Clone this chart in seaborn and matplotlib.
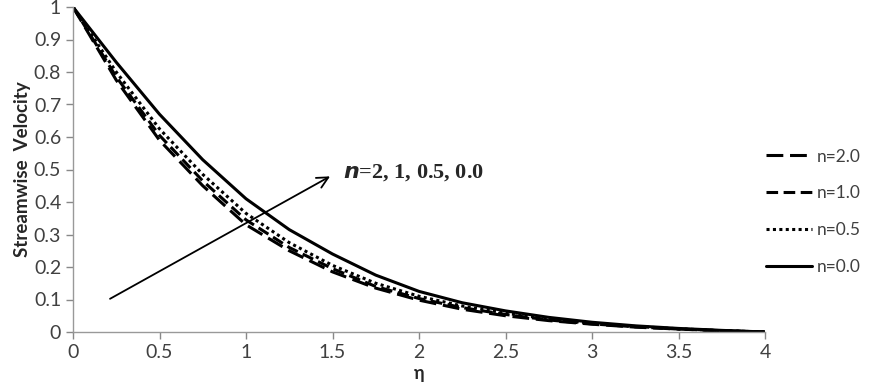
import numpy as np
import pandas as pd
import matplotlib
matplotlib.use("Agg")
import matplotlib.pyplot as plt
import seaborn as sns

eta = [0, 0.25, 0.5, 0.75, 1.0, 1.25, 1.5, 1.75, 2.0, 2.25, 2.5, 2.75, 3.0, 3.25, 3.5, 3.75, 4.0]
u_n20 = [1.0, 0.775, 0.59, 0.45, 0.33, 0.25, 0.185, 0.135, 0.098, 0.07, 0.05, 0.035, 0.024, 0.015, 0.009, 0.004, 0.0]
u_n10 = [1.0, 0.785, 0.605, 0.465, 0.345, 0.26, 0.195, 0.14, 0.103, 0.075, 0.054, 0.037, 0.025, 0.016, 0.009, 0.004, 0.0]
u_n05 = [1.0, 0.80, 0.625, 0.485, 0.365, 0.275, 0.205, 0.15, 0.11, 0.08, 0.058, 0.04, 0.027, 0.017, 0.01, 0.004, 0.0]
u_n00 = [1.0, 0.83, 0.67, 0.53, 0.41, 0.315, 0.24, 0.175, 0.125, 0.09, 0.065, 0.045, 0.03, 0.019, 0.011, 0.005, 0.0]
labels = ["n=2.0", "n=1.0", "n=0.5", "n=0.0"]

df = pd.concat([
    pd.DataFrame({"eta": eta, "u": u, "n": lab})
    for u, lab in zip([u_n20, u_n10, u_n05, u_n00], labels)
])

sns.set_style("ticks")
plt.rcParams["font.family"] = ["Lato", "DejaVu Sans"]

fig = plt.figure(figsize=(8.74, 3.89), dpi=100)
ax = fig.add_axes([73 / 874, 1 - 332 / 389, 692 / 874, 325 / 389])

dashes = {"n=2.0": (5.5, 2.2), "n=1.0": (3.8, 1.8), "n=0.5": (1, 1.1), "n=0.0": ""}
sns.lineplot(data=df, x="eta", y="u", style="n", dashes=dashes, color="black",
             linewidth=2.2, ax=ax, legend=True)

ax.set_xlim(0, 4)
ax.set_ylim(0, 1)
ax.set_xticks(np.arange(0, 4.01, 0.5))
ax.set_xticklabels(["0", "0.5", "1", "1.5", "2", "2.5", "3", "3.5", "4"])
ax.set_yticks(np.arange(0, 1.01, 0.1))
ax.set_yticklabels(["0", "0.1", "0.2", "0.3", "0.4", "0.5", "0.6", "0.7", "0.8", "0.9", "1"])
ax.tick_params(axis="both", labelsize=14, colors="#888888", labelcolor="#404040",
               length=5, width=1)
for s in ["top", "right"]:
    ax.spines[s].set_visible(False)
for s in ["left", "bottom"]:
    ax.spines[s].set_color("#999999")
    ax.spines[s].set_linewidth(1)

ax.set_xlabel("η", fontsize=13, fontweight="bold", labelpad=3)
ax.set_ylabel("Streamwise  Velocity", fontsize=13.5, fontweight="bold", labelpad=2)

ax.annotate("", xy=(1.5, 0.483), xytext=(0.2, 0.098),
            arrowprops=dict(arrowstyle="->", color="black", lw=1.3, mutation_scale=20))
ax.text(1.56, 0.49, r"$\mathbfit{n}$=2, 1, 0.5, 0.0", fontsize=16, fontweight="bold",
        family="Liberation Serif", va="center", ha="left")

handles, labs = ax.get_legend_handles_labels()
leg = ax.legend(handles, labs, loc="center left", bbox_to_anchor=(0.992, 0.37),
                frameon=False, fontsize=12.5, handlelength=2.6, labelspacing=1.2,
                handletextpad=0.3, borderaxespad=0)
for t in leg.get_texts():
    t.set_color("#404040")

fig.savefig("out.png", dpi=100)
